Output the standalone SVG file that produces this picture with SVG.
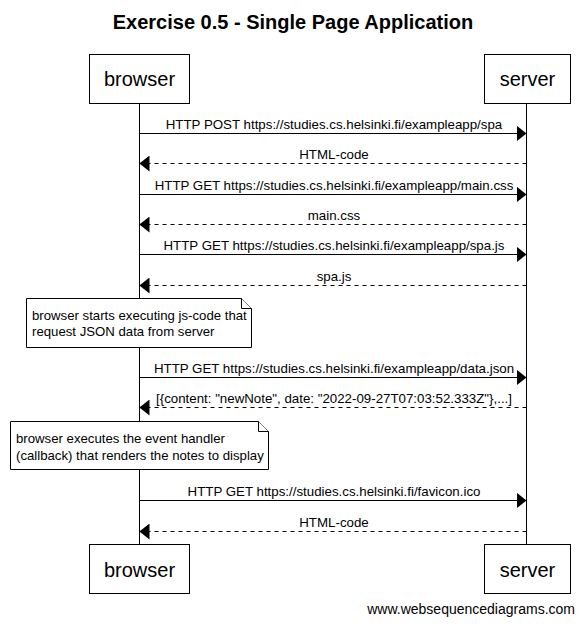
<svg xmlns="http://www.w3.org/2000/svg" width="585" height="627" viewBox="0 0 585 627">
<defs>
<marker id="ah" markerWidth="10" markerHeight="16" refX="10" refY="8" orient="auto" markerUnits="userSpaceOnUse">
<path d="M0,0 L10,8 L0,16 Z" fill="#000"/>
</marker>
<style>
text{font-family:"Liberation Sans",Arial,sans-serif;fill:#000}
.t{font-size:20px;font-weight:bold}
.p{font-size:20px}
.m{font-size:13.3px}
.n{font-size:13.2px}
.w{font-size:14px}
.box{fill:#fff;stroke:#000;stroke-width:1}
.life{stroke:#000;stroke-width:1}
.req{stroke:#000;stroke-width:1;fill:none}
.res{stroke:#000;stroke-width:1;fill:none;stroke-dasharray:4,4}
.note{fill:#fff;stroke:#000;stroke-width:1}
</style>
</defs>
<rect width="585" height="627" fill="#fff"/>
<text class="t" x="293" y="29" text-anchor="middle">Exercise 0.5 - Single Page Application</text>
<g id="lifelines">
<line class="life" x1="139.5" y1="103" x2="139.5" y2="544"/>
<line class="life" x1="526.5" y1="103" x2="526.5" y2="544"/>
</g>
<g id="browser">
<rect class="box" x="89.5" y="54.5" width="100" height="49"/>
<text class="p" x="139.5" y="86" text-anchor="middle">browser</text>
<rect class="box" x="89.5" y="544.5" width="100" height="49"/>
<text class="p" x="139.5" y="577" text-anchor="middle">browser</text>
</g>
<g id="server">
<rect class="box" x="484.5" y="54.5" width="86" height="49"/>
<text class="p" x="527.5" y="86" text-anchor="middle">server</text>
<rect class="box" x="484.5" y="544.5" width="86" height="49"/>
<text class="p" x="527.5" y="577" text-anchor="middle">server</text>
</g>
<g id="connectors">
<line class="req" x1="139.5" y1="133.5" x2="526.5" y2="133.5" marker-end="url(#ah)"/>
<text class="m" x="334" y="129" text-anchor="middle">HTTP POST https://studies.cs.helsinki.fi/exampleapp/spa</text>
<line class="res" x1="526.5" y1="163.5" x2="139.5" y2="163.5" marker-end="url(#ah)"/>
<text class="m" x="334" y="159" text-anchor="middle">HTML-code</text>
<line class="req" x1="139.5" y1="194.5" x2="526.5" y2="194.5" marker-end="url(#ah)"/>
<text class="m" x="334" y="190" text-anchor="middle">HTTP GET https://studies.cs.helsinki.fi/exampleapp/main.css</text>
<line class="res" x1="526.5" y1="224.5" x2="139.5" y2="224.5" marker-end="url(#ah)"/>
<text class="m" x="334" y="220" text-anchor="middle">main.css</text>
<line class="req" x1="139.5" y1="254.5" x2="526.5" y2="254.5" marker-end="url(#ah)"/>
<text class="m" x="334" y="250" text-anchor="middle">HTTP GET https://studies.cs.helsinki.fi/exampleapp/spa.js</text>
<line class="res" x1="526.5" y1="285.5" x2="139.5" y2="285.5" marker-end="url(#ah)"/>
<text class="m" x="334" y="281" text-anchor="middle">spa.js</text>
<line class="req" x1="139.5" y1="377.5" x2="526.5" y2="377.5" marker-end="url(#ah)"/>
<text class="m" x="334" y="373" text-anchor="middle">HTTP GET https://studies.cs.helsinki.fi/exampleapp/data.json</text>
<line class="res" x1="526.5" y1="407.5" x2="139.5" y2="407.5" marker-end="url(#ah)"/>
<text class="m" x="334" y="403" text-anchor="middle">[{content: "newNote", date: "2022-09-27T07:03:52.333Z"},...]</text>
<line class="req" x1="139.5" y1="500.5" x2="526.5" y2="500.5" marker-end="url(#ah)"/>
<text class="m" x="334" y="496" text-anchor="middle">HTTP GET https://studies.cs.helsinki.fi/favicon.ico</text>
<line class="res" x1="526.5" y1="531.5" x2="139.5" y2="531.5" marker-end="url(#ah)"/>
<text class="m" x="334" y="527" text-anchor="middle">HTML-code</text>
</g>
<g id="note1">
<path class="note" d="M26.5,298.5 H241.5 L251.5,308.5 V347.5 H26.5 Z"/>
<path class="note" d="M241.5,298.5 V308.5 H251.5" fill="none"/>
<text class="n" x="32" y="320">browser starts executing js-code that</text>
<text class="n" x="32" y="336">request JSON data from server</text>
</g>
<g id="note2">
<path class="note" d="M10.5,421.5 H258.5 L268.5,431.5 V469.5 H10.5 Z"/>
<path class="note" d="M258.5,421.5 V431.5 H268.5" fill="none"/>
<text class="n" x="16" y="443">browser executes the event handler</text>
<text class="n" x="16" y="460">(callback) that renders the notes to display</text>
</g>
<text class="w" x="575" y="614" text-anchor="end">www.websequencediagrams.com</text>
</svg>
